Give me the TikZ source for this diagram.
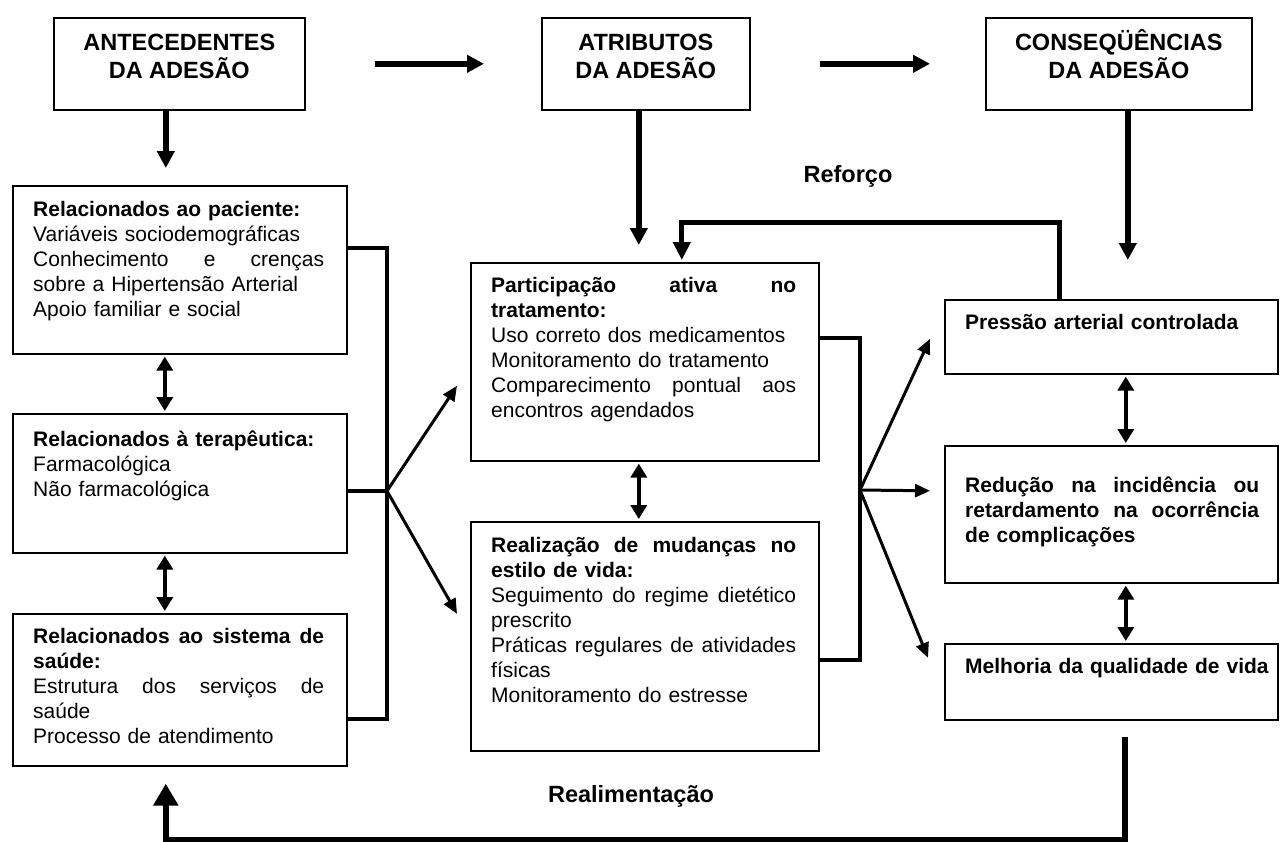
\documentclass[tikz,border=0pt]{standalone}
\usepackage{fontspec}
\setmainfont{Liberation Sans}
\usepackage{tikz}
\usetikzlibrary{arrows.meta}
\setlength{\parindent}{0pt}
\newcommand{\corpo}{\fontsize{21}{25}\selectfont}
\newcommand{\cabec}{\fontsize{23.5}{28}\selectfont\bfseries}
\newcommand{\esp}{\rule{0pt}{20pt}}
\newcommand{\espc}{\rule{0pt}{22pt}}
\tikzset{
  caixa/.style = {rectangle, draw=black, line width=1.6pt, inner sep=0pt,
    anchor=north west},% caixa, sem texto
  cx_tit/.style = {anchor=north, inner sep=0pt, align=center,
    font=\cabec},% titulo das caixas de cima
  cx_txt/.style = {anchor=north west, inner sep=0pt, align=left,
    text width=#1, font=\corpo},% texto das caixas
  rotulo/.style = {anchor=base, inner sep=0pt, font=\cabec},
  seta_g/.style = {line width=6pt, -{Triangle[length=17pt,width=17pt]}},% seta grossa
  seta_d/.style = {line width=4pt, shorten <=2pt, shorten >=2pt,
    {Triangle[length=14pt,width=16pt]}-{Triangle[length=14pt,width=16pt]}},% seta dupla
  seta_f/.style = {line width=3pt, -{Triangle[length=15pt,width=13pt]}},% seta fina
  barra/.style = {line width=3.5pt},
  retro_r/.style = {line width=5pt, -{Triangle[length=18pt,width=17pt]}},% reforco
  retro_a/.style = {line width=6pt, -{Triangle[length=22pt,width=24pt]}}% realimentacao
}

\begin{document}
\begin{tikzpicture}[x=1pt, y=-1pt]
\useasboundingbox (0,0) rectangle (1282,841);

\node[caixa, minimum width=251pt, minimum height=92pt] (ant) at (53,17) {};
\node[caixa, minimum width=208pt, minimum height=92pt] (atr) at (541,17) {};
\node[caixa, minimum width=266pt, minimum height=92pt] (con) at (985,17) {};
\node[cx_tit] (ant_t) at ([yshift=-11pt]ant.north) {\espc ANTECEDENTES\\DA ADESÃO};
\node[cx_tit] (atr_t) at ([yshift=-11pt]atr.north) {\espc ATRIBUTOS\\DA ADESÃO};
\node[cx_tit] (con_t) at ([yshift=-11pt]con.north) {\espc CONSEQÜÊNCIAS\\DA ADESÃO};

\node[caixa, minimum width=334pt, minimum height=168pt] (pac) at (12,185) {};
\node[caixa, minimum width=334pt, minimum height=139pt] (ter) at (12,413) {};
\node[caixa, minimum width=334pt, minimum height=152pt] (sis) at (12,613) {};
\node[cx_txt=291pt] (pac_t) at ([xshift=21pt,yshift=-11pt]pac.north west) {\esp\textbf{Relacionados ao paciente:}\\
	Variáveis sociodemográficas\\
	Conhecimento\hfill e\hfill crenças\\
	sobre a Hipertensão Arterial\\
	Apoio familiar e social};
\node[cx_txt=291pt] (ter_t) at ([xshift=21pt,yshift=-13pt]ter.north west) {\esp\textbf{Relacionados à terapêutica:}\\
	Farmacológica\\
	Não farmacológica};
\node[cx_txt=291pt] (sis_t) at ([xshift=21pt,yshift=-10pt]sis.north west) {\esp\textbf{Relacionados\hfill ao\hfill sistema\hfill de}\\
	\textbf{saúde:}\\
	Estrutura\hfill dos\hfill serviços\hfill de\\
	saúde\\
	Processo de atendimento};

\node[caixa, minimum width=348pt, minimum height=198pt] (par) at (470,262) {};
\node[caixa, minimum width=348pt, minimum height=229pt] (rea) at (470,521) {};
\node[cx_txt=305pt] (par_t) at ([xshift=21pt,yshift=-10pt]par.north west) {\esp\textbf{Participação\hfill ativa\hfill no}\\
	\textbf{tratamento:}\\
	Uso correto dos medicamentos\\
	Monitoramento do tratamento\\
	Comparecimento\hfill pontual\hfill aos\\
	encontros agendados};
\node[cx_txt=305pt] (rea_t) at ([xshift=21pt,yshift=-11pt]rea.north west) {\esp\textbf{Realização\hfill de\hfill mudanças\hfill no}\\
	\textbf{estilo de vida:}\\
	Seguimento\hfill do\hfill regime\hfill dietético\\
	prescrito\\
	Práticas\hfill regulares\hfill de\hfill atividades\\
	físicas\\
	Monitoramento do estresse};

\node[caixa, minimum width=333pt, minimum height=74pt] (pre) at (944,299) {};
\node[caixa, minimum width=333pt, minimum height=137pt] (red) at (944,445) {};
\node[caixa, minimum width=333pt, minimum height=76pt] (mel) at (944,643) {};
\node[cx_txt=310pt] (pre_t) at ([xshift=21pt,yshift=-10pt]pre.north west) {\esp\textbf{Pressão arterial controlada}};
\node[cx_txt=294pt] (red_t) at ([xshift=21pt,yshift=-27pt]red.north west) {\esp\textbf{Redução\hfill na\hfill incidência\hfill ou}\\
	\textbf{retardamento\hfill na\hfill ocorrência}\\
	\textbf{de complicações}};
\node[cx_txt=310pt] (mel_t) at ([xshift=21pt,yshift=-10pt]mel.north west) {\esp\textbf{Melhoria da qualidade de vida}};

\node[rotulo] (reforco) at (848,182) {Reforço};
\node[rotulo] (realim) at (631,802) {Realimentação};

\coordinate (jl) at (387,491);
\coordinate (jr) at (860,490);

\draw[seta_g, shorten <=69pt, shorten >=57pt] (ant.east) -- (atr.west);
\draw[seta_g, shorten <=69pt, shorten >=55pt] (atr.east) -- (con.west);
\draw[seta_g] ([xshift=-13.5pt]ant.south) -- ([xshift=-14pt,yshift=17pt]pac.north);
\draw[seta_g] ([xshift=-7pt]atr.south) -- ([xshift=-6pt,yshift=17pt]par.north);
\draw[seta_g] ([xshift=9pt]con.south) -- ([xshift=16.5pt,yshift=39pt]pre.north);

\draw[seta_d] ([xshift=-15pt]pac.south) -- ([xshift=-15pt]ter.north);
\draw[seta_d] ([xshift=-15pt]ter.south) -- ([xshift=-15pt]sis.north);
\draw[seta_d] ([xshift=-6pt]par.south) -- ([xshift=-6pt]rea.north);
\draw[seta_d] ([xshift=14.5pt]pre.south) -- ([xshift=14.5pt]red.north);
\draw[seta_d] ([xshift=14.5pt]red.south) -- ([xshift=14.5pt]mel.north);

\draw[barra] ([yshift=22pt]pac.east) -| (jl);
\draw[barra] (ter.east |- jl) -- (jl);
\draw[barra] ([yshift=-29pt]sis.east) -| (jl);
\draw[seta_f] (jl) -- ([xshift=-13pt,yshift=-24pt]par.west);
\draw[seta_f] (jl) -- ([xshift=-13pt,yshift=22.5pt]rea.west);

\draw[barra] ([yshift=24pt]par.east) -| (jr);
\draw[barra] ([yshift=-23.5pt]rea.east) -| (jr);
\draw[seta_f] (jr) -- ([xshift=-14pt,yshift=-2pt]pre.west);
\draw[seta_f] (jr) -- ([xshift=-14pt,yshift=23.5pt]red.west);
\draw[seta_f] (jr) -- ([xshift=-16pt,yshift=24pt]mel.west);

\draw[retro_r] ([xshift=-51.5pt]pre.north) -- ++(0,-77) -| ([xshift=37pt,yshift=2pt]par.north);
\draw[retro_a] ([xshift=13.5pt,yshift=-16pt]mel.south) -- ++(0,103) -| ([xshift=-14pt,yshift=-17pt]sis.south);
\end{tikzpicture}
\end{document}
